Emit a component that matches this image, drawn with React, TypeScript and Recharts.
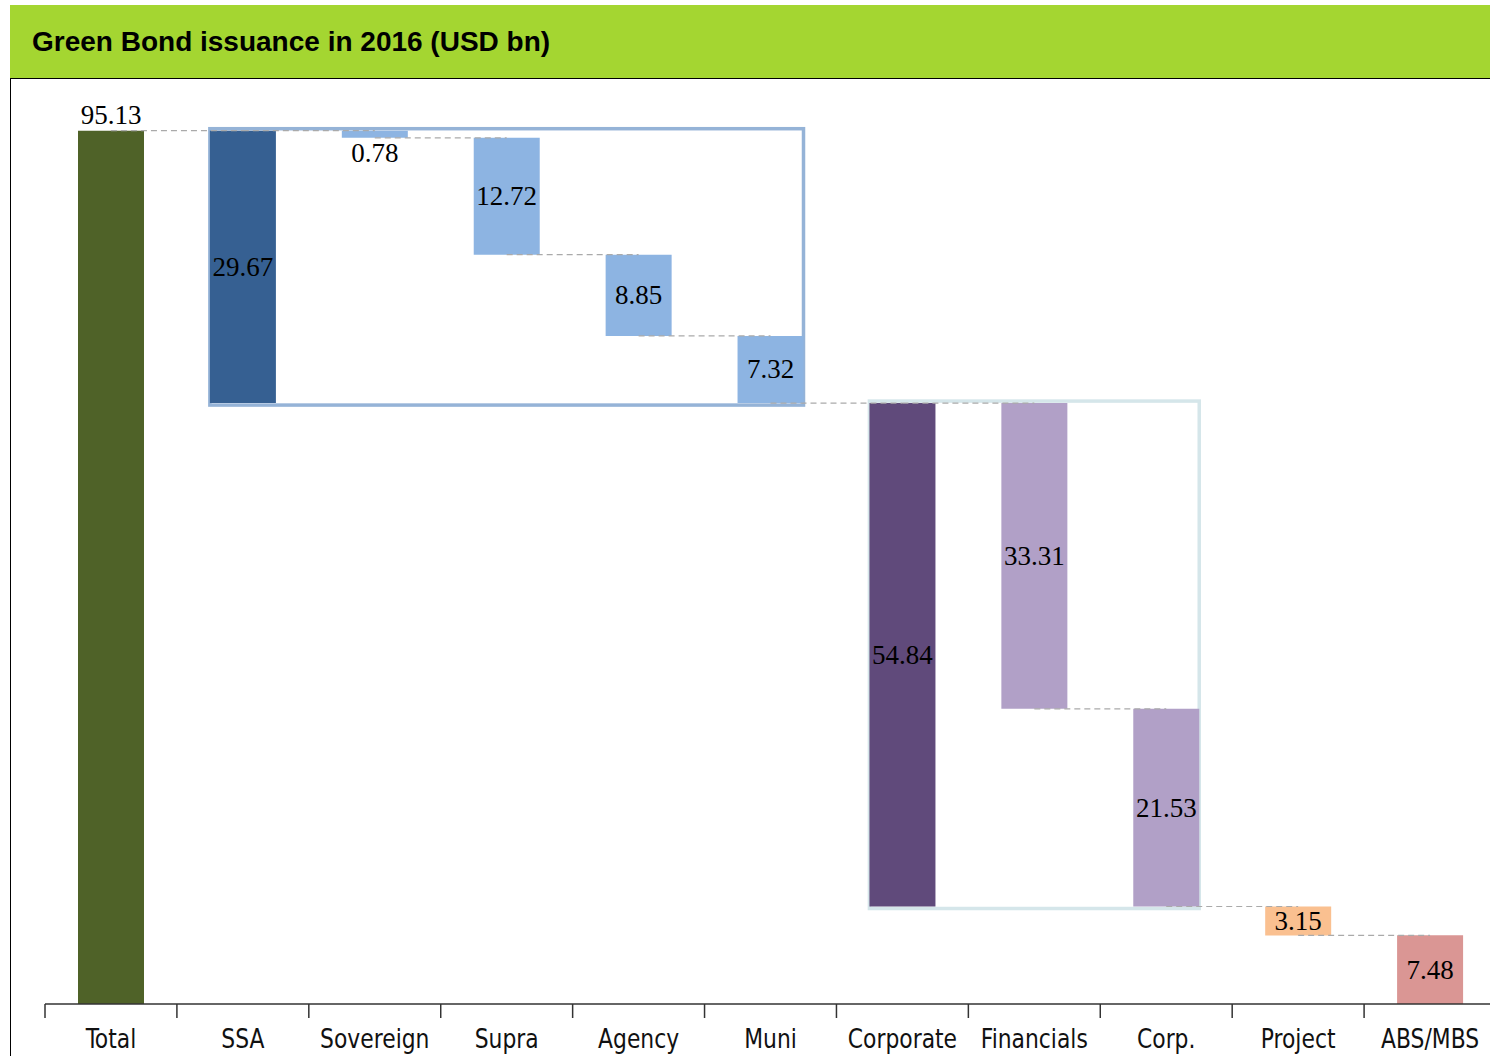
import React from 'react';
import { ComposedChart, Bar, XAxis, YAxis, Cell, LabelList, ReferenceArea, ReferenceLine } from 'recharts';

const categories = ['Total', 'SSA', 'Sovereign', 'Supra', 'Agency', 'Muni', 'Corporate', 'Financials', 'Corp.', 'Project', 'ABS/MBS'];
const values = [95.13, 29.67, 0.78, 12.72, 8.85, 7.32, 54.84, 33.31, 21.53, 3.15, 7.48];
const bases = [0, 65.46, 94.35, 81.63, 72.78, 65.46, 10.62, 32.15, 10.62, 7.47, 0];
const colors = ['#4f6228', '#366092', '#8db4e2', '#8db4e2', '#8db4e2', '#8db4e2', '#604a7b', '#b1a0c7', '#b1a0c7', '#fac090', '#da9694'];
const labelPos = ['top', 'center', 'below', 'center', 'center', 'center', 'center', 'center', 'center', 'center', 'center'];

const connectors = [
  { from: 'Total', to: 'SSA', y: 95.13 },
  { from: 'SSA', to: 'Sovereign', y: 95.13 },
  { from: 'Sovereign', to: 'Supra', y: 94.35 },
  { from: 'Supra', to: 'Agency', y: 81.63 },
  { from: 'Agency', to: 'Muni', y: 72.78 },
  { from: 'Muni', to: 'Corporate', y: 65.46 },
  { from: 'Corporate', to: 'Financials', y: 65.46 },
  { from: 'Financials', to: 'Corp.', y: 32.15 },
  { from: 'Corp.', to: 'Project', y: 10.62 },
  { from: 'Project', to: 'ABS/MBS', y: 7.47 },
];

const groups = [
  { x1: 'SSA', x2: 'Muni', y1: 65.46, y2: 95.13, stroke: '#95b3d7' },
  { x1: 'Corporate', x2: 'Corp.', y1: 10.62, y2: 65.46, stroke: '#d5e6ea' },
];

const data = categories.map((c, i) => ({ name: c, base: bases[i], value: values[i] }));

const BAR = 66;
const W = 1490;
const H = 1056;

const ValueLabel = (props: any) => {
  const { x, y, width, height, value, index } = props;
  const pos = labelPos[index];
  const cx = x + width / 2;
  let ty = y + height / 2 + 9;
  if (pos === 'top') ty = y - 7;
  if (pos === 'below') ty = y + height + 24;
  return (
    <text x={cx} y={ty} textAnchor="middle" fontFamily="'Liberation Serif', 'DejaVu Serif', serif" fontSize={27} fill="#000">
      {Number(value).toFixed(2)}
    </text>
  );
};

const Tick = (props: any) => {
  const { x, y, payload, index } = props;
  const half = payload && payload.offset ? payload.offset : 65.9;
  const isLast = index === categories.length - 1;
  return (
    <g>
      <line x1={x - half} y1={y - 8} x2={x - half} y2={y + 6} stroke="#333" strokeWidth={1.5} />
      {isLast ? <line x1={x + half} y1={y - 8} x2={x + half} y2={y + 6} stroke="#333" strokeWidth={1.5} /> : null}
      <g transform={`translate(${x}, ${y + 36}) scale(0.9, 1)`}>
        <text x={0} y={0} textAnchor="middle" fontFamily="'Liberation Sans Narrow', 'DejaVu Sans Condensed', sans-serif" fontSize={27} fill="#111">
          {payload.value}
        </text>
      </g>
    </g>
  );
};

const GroupBox = (g: any) => (props: any) => {
  const { x, y, width, height } = props;
  const n = categories.indexOf(g.x2) - categories.indexOf(g.x1) + 1;
  const band = width / n;
  const inset = band / 2 - BAR / 2;
  return (
    <rect x={x + inset} y={y - 2} width={width - 2 * inset} height={height + 4} fill="none" stroke={g.stroke} strokeWidth={3.5} />
  );
};

export default function App() {
  return (
    <div style={{ position: 'absolute', left: 0, top: 0, width: W, height: H, background: '#fff', overflow: 'hidden' }}>
      <div style={{ position: 'absolute', left: 10, top: 5, width: 1480, height: 73, background: '#a4d631' }}>
        <div style={{ position: 'absolute', left: 22, top: 21, fontFamily: "'Liberation Sans', Arial, sans-serif", fontWeight: 'bold', fontSize: 28, color: '#000', whiteSpace: 'nowrap' }}>
          Green Bond issuance in 2016 (USD bn)
        </div>
      </div>
      <div style={{ position: 'absolute', left: 10, top: 78, width: 1480, height: 0, borderTop: '1.5px solid #000' }} />
      <div style={{ position: 'absolute', left: 10, top: 78, width: 0, height: 978, borderLeft: '1.5px solid #000' }} />
      <div style={{ position: 'absolute', left: 0, top: 0 }}>
        <ComposedChart width={W + 6} height={H} data={data} margin={{ top: 86, right: 0, left: 45, bottom: 0 }} barCategoryGap={0}>
          <XAxis
            dataKey="name"
            height={52}
            axisLine={{ stroke: '#333', strokeWidth: 1.5 }}
            tickLine={false}
            tick={<Tick />}
            interval={0}
          />
          <YAxis hide domain={[0, 100]} allowDataOverflow />
          {connectors.map((c, i) => (
            <ReferenceLine
              key={'c' + i}
              segment={[{ x: c.from, y: c.y }, { x: c.to, y: c.y }]}
              stroke="#aaaaaa"
              strokeDasharray="6 4"
              strokeWidth={1.2}
              ifOverflow="visible"
            />
          ))}
          <Bar dataKey="base" stackId="w" fill="transparent" isAnimationActive={false} barSize={BAR} />
          <Bar dataKey="value" stackId="w" isAnimationActive={false} barSize={BAR}>
            {data.map((d, i) => (
              <Cell key={d.name} fill={colors[i]} />
            ))}
            <LabelList dataKey="value" content={<ValueLabel />} />
          </Bar>
          {groups.map((g, i) => (
            <ReferenceArea
              key={'g' + i}
              x1={g.x1}
              x2={g.x2}
              y1={g.y1}
              y2={g.y2}
              ifOverflow="visible"
              shape={GroupBox(g)}
            />
          ))}
        </ComposedChart>
      </div>
    </div>
  );
}
